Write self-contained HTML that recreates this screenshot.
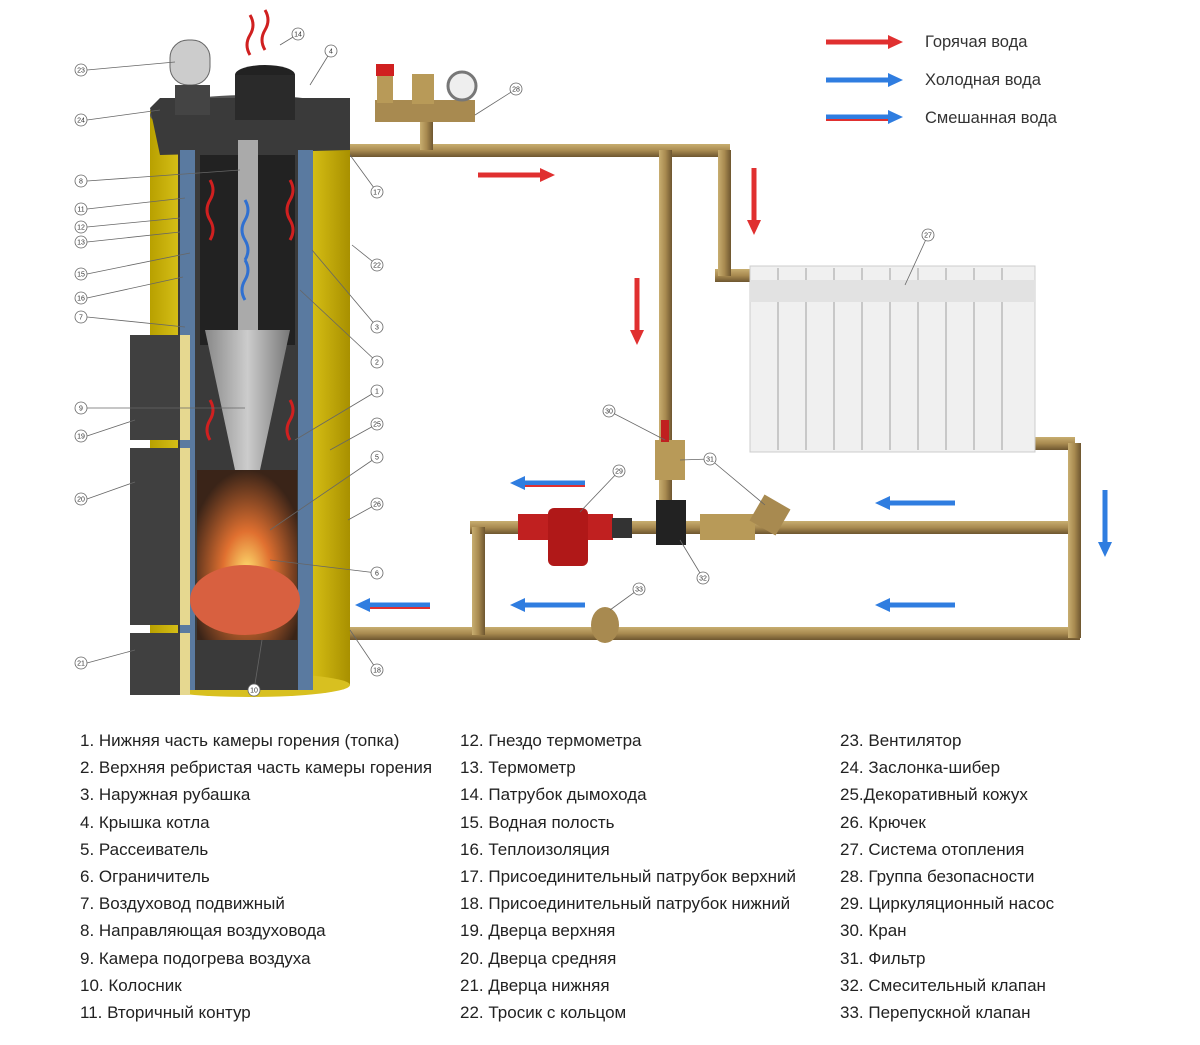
<!DOCTYPE html>
<html><head><meta charset="utf-8"><style>
html,body{margin:0;padding:0;background:#fff;}
.lg{position:absolute;font:17px "Liberation Sans",sans-serif;color:#222;line-height:27.2px;white-space:nowrap}
</style></head><body>
<div style="position:relative;width:1200px;height:1045px;overflow:hidden">
<svg width="1200" height="1045" style="position:absolute;left:0;top:0" font-family="Liberation Sans" >
<defs>
<linearGradient id="ye" x1="0" x2="1"><stop offset="0" stop-color="#b8a000"/><stop offset=".3" stop-color="#f5e030"/><stop offset=".7" stop-color="#f0d820"/><stop offset="1" stop-color="#a89000"/></linearGradient>
<linearGradient id="pv" x1="0" x2="0" y1="0" y2="1"><stop offset="0" stop-color="#c8ae70"/><stop offset=".5" stop-color="#a88a50"/><stop offset="1" stop-color="#6e5630"/></linearGradient>
<linearGradient id="ph" x1="0" x2="1"><stop offset="0" stop-color="#c8ae70"/><stop offset=".5" stop-color="#a88a50"/><stop offset="1" stop-color="#6e5630"/></linearGradient>
<radialGradient id="fire" cx=".5" cy=".6" r=".6"><stop offset="0" stop-color="#ffe070"/><stop offset=".4" stop-color="#e07030"/><stop offset="1" stop-color="#3a2418"/></radialGradient>
<linearGradient id="cone" x1="0" x2="1"><stop offset="0" stop-color="#888"/><stop offset=".5" stop-color="#ccc"/><stop offset="1" stop-color="#777"/></linearGradient>
</defs>
<!-- pipes -->
<g fill="url(#pv)">
<rect x="345" y="144" width="385" height="13"/>
<rect x="350" y="627" width="730" height="13"/>
<rect x="470" y="521" width="610" height="13"/>
<rect x="715" y="269" width="40" height="13"/>
<rect x="1030" y="437" width="45" height="13"/>
</g>
<g fill="url(#ph)">
<rect x="659" y="150" width="13" height="378"/>
<rect x="718" y="150" width="13" height="126"/>
<rect x="1068" y="443" width="13" height="195"/>
<rect x="472" y="527" width="13" height="108"/>
<rect x="420" y="110" width="13" height="40"/>
</g>
<!-- safety group -->
<rect x="375" y="100" width="100" height="22" fill="#a88a50"/>
<rect x="377" y="68" width="16" height="35" fill="#b89a58"/><rect x="376" y="64" width="18" height="12" fill="#d02020"/>
<rect x="412" y="74" width="22" height="30" fill="#b89a58"/>
<circle cx="462" cy="86" r="14" fill="#eee" stroke="#777" stroke-width="3"/>
<!-- pump etc -->
<rect x="518" y="514" width="95" height="26" fill="#c02020"/>
<rect x="548" y="508" width="40" height="58" rx="6" fill="#b01818"/>
<rect x="656" y="500" width="30" height="45" fill="#222"/>
<rect x="612" y="518" width="20" height="20" fill="#333"/>
<rect x="700" y="514" width="55" height="26" fill="#b89a58"/>
<rect x="755" y="500" width="30" height="30" fill="#a88a50" transform="rotate(30 770 515)"/>
<rect x="655" y="440" width="30" height="40" fill="#b89a58"/>
<rect x="661" y="420" width="8" height="22" fill="#c02020"/>
<ellipse cx="605" cy="625" rx="14" ry="18" fill="#a88a50"/>
<!-- radiator -->
<rect x="750" y="266" width="285" height="186" fill="#f0f0f0" stroke="#ccc"/>
<g stroke="#c8c8c8" stroke-width="2">
<line x1="778" y1="268" x2="778" y2="450"/><line x1="806" y1="268" x2="806" y2="450"/><line x1="834" y1="268" x2="834" y2="450"/><line x1="862" y1="268" x2="862" y2="450"/><line x1="890" y1="268" x2="890" y2="450"/><line x1="918" y1="268" x2="918" y2="450"/><line x1="946" y1="268" x2="946" y2="450"/><line x1="974" y1="268" x2="974" y2="450"/><line x1="1002" y1="268" x2="1002" y2="450"/>
</g>
<rect x="750" y="280" width="285" height="22" fill="#e2e2e2"/>
<!-- boiler -->
<rect x="150" y="110" width="200" height="575" fill="url(#ye)"/>
<ellipse cx="250" cy="685" rx="100" ry="12" fill="#d8c020"/>
<ellipse cx="250" cy="115" rx="100" ry="20" fill="#555"/>
<path d="M150 108 L160 98 L350 98 L350 150 L160 155 Z" fill="#3a3a3a"/>
<rect x="178" y="150" width="135" height="540" fill="#3a3a3a"/>
<rect x="180" y="150" width="15" height="540" fill="#5a7aa0"/>
<rect x="298" y="150" width="15" height="540" fill="#5a7aa0"/>
<rect x="200" y="155" width="95" height="190" fill="#222"/>
<rect x="238" y="140" width="20" height="320" fill="#aaa"/>
<path d="M205 330 L290 330 L260 470 L235 470 Z" fill="url(#cone)"/>
<rect x="197" y="470" width="100" height="170" fill="url(#fire)"/>
<ellipse cx="245" cy="600" rx="55" ry="35" fill="#d86040"/>
<ellipse cx="265" cy="75" rx="30" ry="10" fill="#222"/><rect x="235" y="75" width="60" height="45" fill="#2a2a2a"/>
<rect x="170" y="40" width="40" height="45" rx="18" fill="#ccc" stroke="#666"/>
<rect x="175" y="85" width="35" height="30" fill="#444"/>
<rect x="130" y="335" width="58" height="105" fill="#404040"/><rect x="180" y="335" width="10" height="105" fill="#e6d890"/>
<rect x="130" y="448" width="58" height="177" fill="#404040"/><rect x="180" y="448" width="10" height="177" fill="#e6d890"/>
<rect x="130" y="633" width="58" height="62" fill="#404040"/><rect x="180" y="633" width="10" height="62" fill="#e6d890"/>
<g stroke="#d02020" stroke-width="3" fill="none">
<path d="M210 180 q6 10 0 20 q-6 10 0 20 q6 10 0 20"/><path d="M290 180 q6 10 0 20 q-6 10 0 20 q6 10 0 20"/>
<path d="M210 400 q6 10 0 20 q-6 10 0 20"/><path d="M290 400 q6 10 0 20 q-6 10 0 20"/>
<path d="M250 15 q6 10 0 20 q-6 10 0 20"/><path d="M265 10 q6 10 0 20 q-6 10 0 20"/>
</g>
<g stroke="#3070d0" stroke-width="3" fill="none"><path d="M245 200 q6 10 0 20 q-6 10 0 20 q6 10 0 20"/><path d="M245 260 q6 10 0 20 q-6 10 0 20"/></g>
<!-- arrows -->
<g stroke-width="5">
<line x1="478" y1="175" x2="540" y2="175" stroke="#e03030"/><polygon points="540,168 555,175 540,182" fill="#e03030"/>
<line x1="754" y1="168" x2="754" y2="220" stroke="#e03030"/><polygon points="747,220 754,235 761,220" fill="#e03030"/>
<line x1="637" y1="278" x2="637" y2="330" stroke="#e03030"/><polygon points="630,330 637,345 644,330" fill="#e03030"/>
<line x1="1105" y1="490" x2="1105" y2="542" stroke="#2f7de0"/><polygon points="1098,542 1105,557 1112,542" fill="#2f7de0"/>
<line x1="890" y1="503" x2="955" y2="503" stroke="#2f7de0"/><polygon points="890,496 875,503 890,510" fill="#2f7de0"/>
<line x1="890" y1="605" x2="955" y2="605" stroke="#2f7de0"/><polygon points="890,598 875,605 890,612" fill="#2f7de0"/>
<line x1="525" y1="605" x2="585" y2="605" stroke="#2f7de0"/><polygon points="525,598 510,605 525,612" fill="#2f7de0"/>
<line x1="525" y1="483" x2="585" y2="483" stroke="#2f7de0"/><line x1="525" y1="486" x2="585" y2="486" stroke="#e03030" stroke-width="2"/><polygon points="525,476 510,483 525,490" fill="#2f7de0"/>
<line x1="370" y1="605" x2="430" y2="605" stroke="#2f7de0"/><line x1="370" y1="608" x2="430" y2="608" stroke="#e03030" stroke-width="2"/><polygon points="370,598 355,605 370,612" fill="#2f7de0"/>
<line x1="826" y1="42" x2="888" y2="42" stroke="#e03030"/><polygon points="888,35 903,42 888,49" fill="#e03030"/>
<line x1="826" y1="80" x2="888" y2="80" stroke="#2f7de0"/><polygon points="888,73 903,80 888,87" fill="#2f7de0"/>
<line x1="826" y1="117" x2="888" y2="117" stroke="#2f7de0"/><line x1="826" y1="120" x2="888" y2="120" stroke="#e03030" stroke-width="2"/><polygon points="888,110 903,117 888,124" fill="#2f7de0"/>
</g>
<g font-size="16.5" fill="#333"><text x="925" y="47">Горячая вода</text><text x="925" y="85">Холодная вода</text><text x="925" y="123">Смешанная вода</text></g>
<!-- callouts -->
<g stroke="#666" stroke-width="0.8" fill="#fff" font-size="7" text-anchor="middle">
<g><line x1="87" y1="70" x2="175" y2="62"/><circle cx="81" cy="70" r="6"/><text x="81" y="72.5" fill="#333" stroke="none">23</text></g>
<g><line x1="87" y1="120" x2="160" y2="110"/><circle cx="81" cy="120" r="6"/><text x="81" y="122.5" fill="#333" stroke="none">24</text></g>
<g><line x1="87" y1="181" x2="240" y2="170"/><circle cx="81" cy="181" r="6"/><text x="81" y="183.5" fill="#333" stroke="none">8</text></g>
<g><line x1="87" y1="209" x2="185" y2="198"/><circle cx="81" cy="209" r="6"/><text x="81" y="211.5" fill="#333" stroke="none">11</text></g>
<g><line x1="87" y1="227" x2="180" y2="218"/><circle cx="81" cy="227" r="6"/><text x="81" y="229.5" fill="#333" stroke="none">12</text></g>
<g><line x1="87" y1="242" x2="180" y2="232"/><circle cx="81" cy="242" r="6"/><text x="81" y="244.5" fill="#333" stroke="none">13</text></g>
<g><line x1="87" y1="274" x2="190" y2="253"/><circle cx="81" cy="274" r="6"/><text x="81" y="276.5" fill="#333" stroke="none">15</text></g>
<g><line x1="87" y1="298" x2="183" y2="277"/><circle cx="81" cy="298" r="6"/><text x="81" y="300.5" fill="#333" stroke="none">16</text></g>
<g><line x1="87" y1="317" x2="185" y2="327"/><circle cx="81" cy="317" r="6"/><text x="81" y="319.5" fill="#333" stroke="none">7</text></g>
<g><line x1="87" y1="408" x2="245" y2="408"/><circle cx="81" cy="408" r="6"/><text x="81" y="410.5" fill="#333" stroke="none">9</text></g>
<g><line x1="87" y1="436" x2="135" y2="420"/><circle cx="81" cy="436" r="6"/><text x="81" y="438.5" fill="#333" stroke="none">19</text></g>
<g><line x1="87" y1="499" x2="135" y2="482"/><circle cx="81" cy="499" r="6"/><text x="81" y="501.5" fill="#333" stroke="none">20</text></g>
<g><line x1="87" y1="663" x2="135" y2="650"/><circle cx="81" cy="663" r="6"/><text x="81" y="665.5" fill="#333" stroke="none">21</text></g>
<g><line x1="280" y1="45" x2="298" y2="34"/><circle cx="298" cy="34" r="6"/><text x="298" y="36.5" fill="#333" stroke="none">14</text></g>
<g><line x1="310" y1="85" x2="331" y2="51"/><circle cx="331" cy="51" r="6"/><text x="331" y="53.5" fill="#333" stroke="none">4</text></g>
<g><line x1="350" y1="155" x2="377" y2="192"/><circle cx="377" cy="192" r="6"/><text x="377" y="194.5" fill="#333" stroke="none">17</text></g>
<g><line x1="352" y1="245" x2="377" y2="265"/><circle cx="377" cy="265" r="6"/><text x="377" y="267.5" fill="#333" stroke="none">22</text></g>
<g><line x1="312" y1="250" x2="377" y2="327"/><circle cx="377" cy="327" r="6"/><text x="377" y="329.5" fill="#333" stroke="none">3</text></g>
<g><line x1="300" y1="290" x2="377" y2="362"/><circle cx="377" cy="362" r="6"/><text x="377" y="364.5" fill="#333" stroke="none">2</text></g>
<g><line x1="295" y1="440" x2="377" y2="391"/><circle cx="377" cy="391" r="6"/><text x="377" y="393.5" fill="#333" stroke="none">1</text></g>
<g><line x1="330" y1="450" x2="377" y2="424"/><circle cx="377" cy="424" r="6"/><text x="377" y="426.5" fill="#333" stroke="none">25</text></g>
<g><line x1="270" y1="530" x2="377" y2="457"/><circle cx="377" cy="457" r="6"/><text x="377" y="459.5" fill="#333" stroke="none">5</text></g>
<g><line x1="348" y1="520" x2="377" y2="504"/><circle cx="377" cy="504" r="6"/><text x="377" y="506.5" fill="#333" stroke="none">26</text></g>
<g><line x1="270" y1="560" x2="377" y2="573"/><circle cx="377" cy="573" r="6"/><text x="377" y="575.5" fill="#333" stroke="none">6</text></g>
<g><line x1="350" y1="630" x2="377" y2="670"/><circle cx="377" cy="670" r="6"/><text x="377" y="672.5" fill="#333" stroke="none">18</text></g>
<g><line x1="262" y1="640" x2="254" y2="690"/><circle cx="254" cy="690" r="6"/><text x="254" y="692.5" fill="#333" stroke="none">10</text></g>
<g><line x1="475" y1="115" x2="516" y2="89"/><circle cx="516" cy="89" r="6"/><text x="516" y="91.5" fill="#333" stroke="none">28</text></g>
<g><line x1="905" y1="285" x2="928" y2="235"/><circle cx="928" cy="235" r="6"/><text x="928" y="237.5" fill="#333" stroke="none">27</text></g>
<g><line x1="665" y1="440" x2="609" y2="411"/><circle cx="609" cy="411" r="6"/><text x="609" y="413.5" fill="#333" stroke="none">30</text></g>
<g><line x1="580" y1="512" x2="619" y2="471"/><circle cx="619" cy="471" r="6"/><text x="619" y="473.5" fill="#333" stroke="none">29</text></g>
<g><line x1="680" y1="460" x2="710" y2="459"/><line x1="765" y1="505" x2="710" y2="459"/><circle cx="710" cy="459" r="6"/><text x="710" y="461.5" fill="#333" stroke="none">31</text></g>
<g><line x1="680" y1="540" x2="703" y2="578"/><circle cx="703" cy="578" r="6"/><text x="703" y="580.5" fill="#333" stroke="none">32</text></g>
<g><line x1="610" y1="610" x2="639" y2="589"/><circle cx="639" cy="589" r="6"/><text x="639" y="591.5" fill="#333" stroke="none">33</text></g>
</g>
</svg>
<div class="lg" style="left:80px;top:727px">1. Нижняя часть камеры горения (топка)<br>2. Верхняя ребристая часть камеры горения<br>3. Наружная рубашка<br>4. Крышка котла<br>5. Рассеиватель<br>6. Ограничитель<br>7. Воздуховод подвижный<br>8. Направляющая воздуховода<br>9. Камера подогрева воздуха<br>10. Колосник<br>11. Вторичный контур</div>
<div class="lg" style="left:460px;top:727px">12. Гнездо термометра<br>13. Термометр<br>14. Патрубок дымохода<br>15. Водная полость<br>16. Теплоизоляция<br>17. Присоединительный патрубок верхний<br>18. Присоединительный патрубок нижний<br>19. Дверца верхняя<br>20. Дверца средняя<br>21. Дверца нижняя<br>22. Тросик с кольцом</div>
<div class="lg" style="left:840px;top:727px">23. Вентилятор<br>24. Заслонка-шибер<br>25.Декоративный кожух<br>26. Крючек<br>27. Система отопления<br>28. Группа безопасности<br>29. Циркуляционный насос<br>30. Кран<br>31. Фильтр<br>32. Смесительный клапан<br>33. Перепускной клапан</div>
</div>
</body></html>
